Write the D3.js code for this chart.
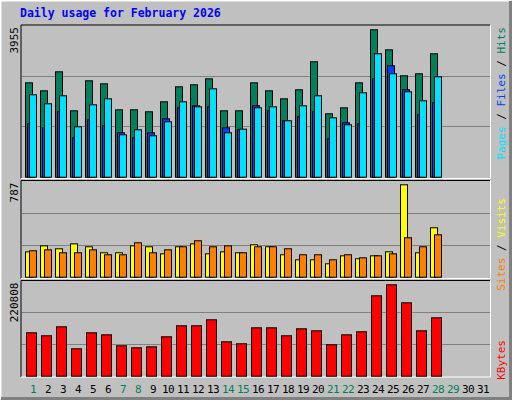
<!DOCTYPE html><html><head><meta charset="utf-8">
<script src="https://cdn.jsdelivr.net/npm/d3@7"></script>
<style>body{margin:0;background:#fff}</style></head><body>
<script>
const days = d3.range(1, 32);
const weekend = [1,7,8,14,15,21,22,28,29];
const hits  = [2489,2278,2779,1751,2542,2463,1777,1777,1725,1988,2384,2436,2595,1751,1751,2489,2278,2067,2305,3043,1672,1830,2489,3887,3359,2674,2727,3254];
const files = [1408,1303,1725,1039,1514,1355,1171,1039,1171,1540,1830,1883,1856,1303,1250,1883,1751,1487,1593,1725,1013,1434,1408,2595,2938,2305,1645,1962];
const pages = [2173,1936,2147,1329,1909,2067,1118,1250,1092,1461,1988,1856,2331,1171,1266,1830,1856,1487,1883,2147,1566,1382,2226,3254,2727,2252,2015,2648];
const visits= [216,267,242,284,259,208,208,267,259,199,259,284,199,216,208,276,259,191,148,148,114,182,157,182,216,787,208,421];
const sites = [225,233,208,208,233,191,191,293,208,233,259,310,259,267,208,259,259,242,191,191,148,191,165,182,199,336,259,361];
const kbytes= [104855,97600,119350,66200,104855,100000,73450,68600,71000,95200,121800,121800,136260,83100,78300,116900,116900,97600,114500,109700,75860,100000,107270,194250,220808,177330,109700,141100];
const maxLabels = ["3955","787","220808"];

const W=512,H=400;
const svg=d3.select("body").append("svg").attr("width",W).attr("height",H).style("display","block");
svg.append("rect").attr("width",W).attr("height",H).attr("fill","#c0c0c0");
svg.append("path").attr("d","M0.5,399.5V0.5H511.5").attr("stroke","#fff").attr("fill","none").attr("stroke-width",2);
svg.append("path").attr("d","M1,398.5H510.5V1").attr("stroke","#808080").attr("fill","none").attr("stroke-width",3);
const F="'DejaVu Sans Mono', 'Liberation Mono', monospace";
svg.append("text").attr("x",20).attr("y",17).attr("font-family",F).attr("font-weight","bold").attr("font-size",11.5).attr("fill","#0000ff").text("Daily usage for February 2026");

const x=d3.scaleBand().domain(days).range([25,490]);
const panels=[
 {top:25,base:176.7,h:147.4,max:3887,bottom:178.5},
 {top:180.5,base:276.7,h:92.4,max:787,bottom:278.5},
 {top:280.5,base:375.7,h:91.4,max:220808,bottom:377}
];
panels.forEach((p,i)=>{
  const g=svg.append("g");
  g.append("path").attr("d",`M21,${p.bottom}V${p.top}H490`).attr("stroke","#000").attr("fill","none");
  g.append("path").attr("d",`M21,${p.bottom}H490.5V${p.top}`).attr("stroke","#fff").attr("fill","none");
  const ih=p.base-p.top;
  [1,2].forEach(k=>{const yy=Math.round(p.base-ih*k/3)+0.5;
    g.append("line").attr("x1",22).attr("x2",490).attr("y1",yy).attr("y2",yy).attr("stroke","#808080");});
  g.append("text").attr("transform",`translate(18,${p.top+2}) rotate(-90)`).attr("text-anchor","end")
   .attr("font-family",F).attr("font-size",11).attr("fill","#000").text(maxLabels[i]);
  p.y=d3.scaleLinear().domain([0,p.max]).range([p.base,p.base-p.h]);
});
function bars(data,p,dx,w,color){
  svg.append("g").selectAll("rect").data(data).join("rect")
   .attr("x",(d,i)=>x(i+1)+dx+0.5).attr("width",w)
   .attr("y",d=>p.y(d)+0.5).attr("height",d=>p.base-p.y(d))
   .attr("fill",color).attr("stroke","#000");
}
bars(hits,panels[0],0,7,"#00805c");
bars(files,panels[0],2,7,"#0040ff");
bars(pages,panels[0],4,7,"#00e0ff");
bars(visits,panels[1],0,7,"#ffff00");
bars(sites,panels[1],4,7,"#ff8000");
bars(kbytes,panels[2],1,10,"#ff0000");

svg.append("g").selectAll("text").data(days).join("text")
 .attr("x",d=>x(d)+8).attr("y",393).attr("text-anchor","middle")
 .attr("font-family",F).attr("font-size",11).attr("letter-spacing",-0.5)
 .attr("fill",d=>weekend.includes(d)?"#00805c":"#000").text(d=>d);

function rlabel(y,parts){
  const t=svg.append("text").attr("transform",`translate(505,${y}) rotate(-90)`)
   .attr("font-family",F).attr("font-size",11).attr("text-anchor","end");
  parts.forEach(([s,c])=>t.append("tspan").attr("fill",c).text(s));
}
rlabel(27,[["Pages","#00e0ff"],[" / ","#000"],["Files","#0040ff"],[" / ","#000"],["Hits","#00805c"]]);
rlabel(198,[["Sites","#ff8000"],[" / ","#000"],["Visits","#ffff00"]]);
rlabel(340,[["KBytes","#ff0000"]]);
</script></body></html>
